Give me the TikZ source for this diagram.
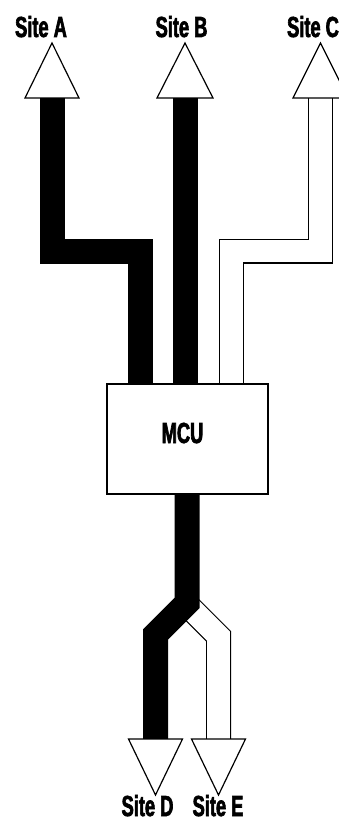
\documentclass[tikz,border=0pt]{standalone}
\usepackage{fontspec}
\newfontfamily\labelfont[FakeStretch=0.63,FakeBold=2.2]{Liberation Sans}
\begin{document}
\begin{tikzpicture}[x=1pt,y=-1pt,
  band/.style={line width=25pt, line cap=butt, line join=miter},
  blackband/.style={band, draw=black},
  hollowband/.style={band, draw=black, postaction={draw=white, line width=22.6pt, line cap=butt, line join=miter}},
  arrowhead/.style={draw=black, fill=white, line width=1.2pt, line join=miter},
  site/.style={font=\labelfont\bfseries\fontsize{29}{32}\selectfont, anchor=base, inner sep=0pt, text depth=0pt},
  mcubox/.style={draw=black, fill=white, line width=1.3pt, minimum width=161pt, minimum height=110pt, inner sep=0pt}]
\useasboundingbox (0,0) rectangle (339,821);

% coordinates
\coordinate (Atop) at (52.5,98);
\coordinate (Btop) at (185.5,98);
\coordinate (Ctop) at (320.5,98);
\coordinate (Abot) at (140.5,384);
\coordinate (Bbot) at (185.5,384);
\coordinate (Cbot) at (231.5,384);
\coordinate (Dstart) at (187,494);
\coordinate (Dend) at (155.5,739);
\coordinate (Estart) at (187,604.7);
\coordinate (Eend) at (218.5,739);

% bands
\draw[blackband] (Atop) -- (52.5,251) -- (140.5,251) -- (Abot);
\draw[blackband] (Btop) -- (Bbot);
\draw[hollowband] (Ctop) -- (320.5,251) -- (231.5,251) -- (Cbot);
\draw[hollowband] (Estart) -- (218.5,636.2) -- (Eend);
\draw[blackband] (Dstart) -- (187,603) -- (155.5,634.5) -- (Dend);

% arrow heads
\draw[arrowhead] (25,98) -- (52,43) -- (79,98) -- cycle;
\draw[arrowhead] (157,98) -- (185,43) -- (213,98) -- cycle;
\draw[arrowhead] (293,98) -- (320.5,43) -- (348,98) -- cycle;
\draw[arrowhead] (128.5,739) -- (155.5,795) -- (182.5,739) -- cycle;
\draw[arrowhead] (191.5,739) -- (218.5,795) -- (245.5,739) -- cycle;

% MCU box
\node[mcubox] (mcu) at (187.5,439) {};
\node[site] (mcutext) at (182.5,443) {MCU};

% labels
\node[site] (siteA) at (41,37) {Site A};
\node[site] (siteB) at (181.5,37) {Site B};
\node[site] (siteC) at (313,37) {Site C};
\node[site] (siteD) at (147.5,816) {Site D};
\node[site] (siteE) at (218,816) {Site E};
\end{tikzpicture}
\end{document}
